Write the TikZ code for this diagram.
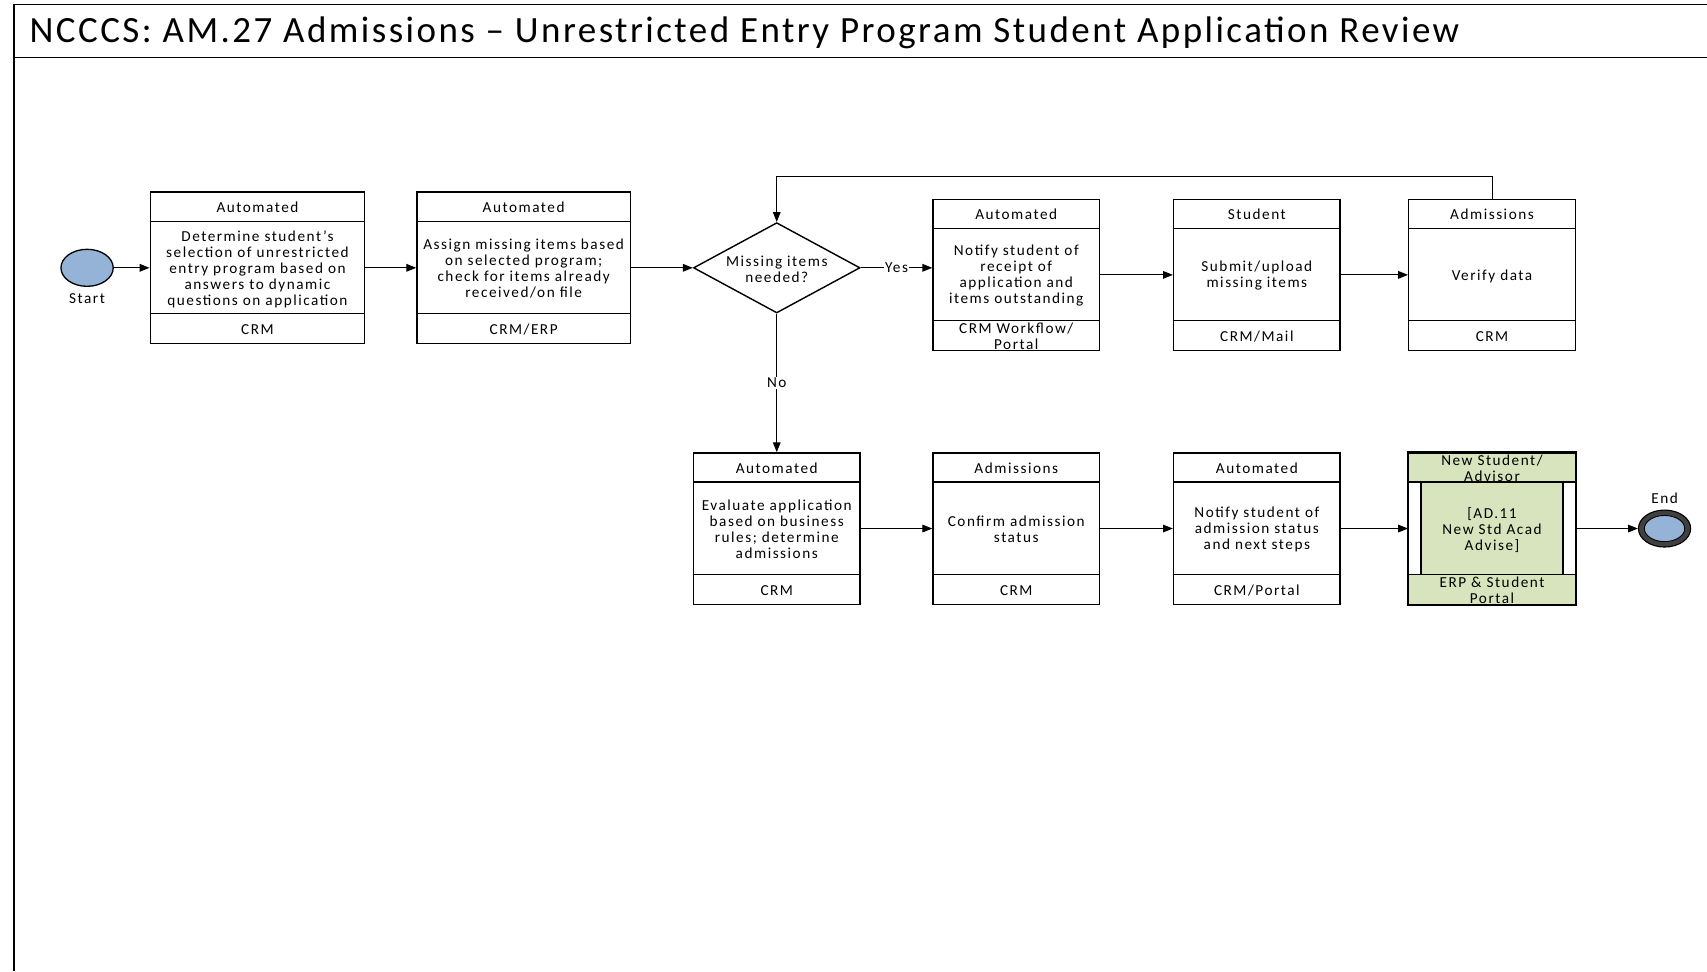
\documentclass[tikz,border=0pt]{standalone}
\usepackage{fontspec}
\setmainfont{Carlito}
\usetikzlibrary{arrows.meta,calc,shapes.geometric}

\definecolor{startblue}{RGB}{149,179,215}
\definecolor{subgreen}{RGB}{215,228,189}
\definecolor{ringgray}{RGB}{64,64,64}

\newfontfamily\boxfont[LetterSpace=10]{Carlito}
\newfontfamily\titlefont[LetterSpace=6.6]{Carlito}

\tikzset{
  boxline/.style={draw=black, line width=1.3pt},
  flow/.style={draw=black, line width=0.9pt, -{Triangle[length=9pt,width=7pt]}},
  lbl/.style={font=\boxfont\fontsize{14}{14.7}\selectfont, align=center, inner sep=0pt},
  tag/.style={lbl, fill=white, inner sep=1pt},
}

% task box: name, centre, width, role, task text, system
\newcommand{\procbox}[6]{%
  \node[boxline, minimum width=#3, minimum height=139pt, inner sep=0pt] (#1) at (#2) {};
  \draw[boxline] ($(#1.north west)+(0,27.5)$) -- ($(#1.north east)+(0,27.5)$);
  \draw[boxline] ($(#1.south west)+(0,-28)$) -- ($(#1.south east)+(0,-28)$);
  \node[lbl] (#1-role) at ($(#1.north)+(0,14.5)$) {#4};
  \node[lbl] (#1-task) at ($(#1.center)+(0,1)$) {#5};
  \node[lbl] (#1-sys) at ($(#1.south)+(0,-13.5)$) {#6};
}

\begin{document}
\begin{tikzpicture}[x=1pt, y=-1pt]
\useasboundingbox (0,0) rectangle (1568,892);

% page frame and title bar
\draw[line width=1.4pt] (1568,4) -- (13,4) -- (13,892);
\draw[line width=1.4pt] (13,53) -- (1568,53);
\node[anchor=west, inner sep=0pt, font=\titlefont\fontsize{34}{36}\selectfont] (title) at (27,30)
  {NCCCS: AM.27 Admissions – Unrestricted Entry Program Student Application Review};

% start event
\node[ellipse, draw=black, line width=1.2pt, fill=startblue, minimum width=48pt, minimum height=34pt] (start) at (80,246) {};
\node[lbl] (startlbl) at (80,274) {Start};

% first row
\procbox{b1}{236.5,246}{197pt}{Automated}{Determine student’s\\selection of unrestricted\\entry program based on\\answers to dynamic\\questions on application}{CRM}
\procbox{b2}{481,246}{196pt}{Automated}{Assign missing items based\\on selected program;\\check for items already\\received/on file}{CRM/ERP}

\node[diamond, draw=black, line width=1.3pt, minimum width=153pt, minimum height=83pt, inner sep=0pt] (dec) at (713.5,246) {};
\node[lbl] (declbl) at ($(dec.center)+(0,1)$) {Missing items\\needed?};

\procbox{b3}{933.5,252.5}{153pt}{Automated}{Notify student of\\receipt of\\application and\\items outstanding}{CRM Workflow/\\Portal}
\procbox{b4}{1154.5,252.5}{153pt}{Student}{Submit/upload\\missing items}{CRM/Mail}
\procbox{b5}{1370.5,252.5}{153pt}{Admissions}{Verify data}{CRM}

% second row
\procbox{b6}{713.5,485.5}{153pt}{Automated}{Evaluate application\\based on business\\rules; determine\\admissions}{CRM}
\procbox{b7}{933.5,485.5}{153pt}{Admissions}{Confirm admission\\status}{CRM}
\procbox{b8}{1154.5,485.5}{153pt}{Automated}{Notify student of\\admission status\\and next steps}{CRM/Portal}

% linked sub-process
\node[boxline, fill=subgreen, minimum width=153pt, minimum height=139pt, inner sep=0pt] (sub) at (1370.5,485.5) {};
\fill[white] ($(sub.north west)+(0.65,27.5)$) rectangle ($(sub.south west)+(12,-28)$);
\fill[white] ($(sub.north east)+(-12,27.5)$) rectangle ($(sub.south east)+(-0.65,-28)$);
\draw[boxline] ($(sub.north west)+(12,27.5)$) -- ($(sub.south west)+(12,-28)$);
\draw[boxline] ($(sub.north east)+(-12,27.5)$) -- ($(sub.south east)+(-12,-28)$);
\draw[boxline] ($(sub.north west)+(0,27.5)$) -- ($(sub.north east)+(0,27.5)$);
\draw[boxline] ($(sub.south west)+(0,-28)$) -- ($(sub.south east)+(0,-28)$);
\draw[boxline] (sub.north west) rectangle (sub.south east);
\node[lbl] (sub-role) at ($(sub.north)+(0,14.5)$) {New Student/\\Advisor};
\node[lbl] (sub-task) at ($(sub.center)+(0,1)$) {[AD.11\\New Std Acad\\Advise]};
\node[lbl] (sub-sys) at ($(sub.south)+(0,-13.5)$) {ERP \& Student\\Portal};

% end event
\node[ellipse, draw=black, line width=1pt, fill=ringgray, minimum width=48pt, minimum height=34pt] (end) at (1529,485.5) {};
\node[ellipse, draw=black, line width=0.8pt, fill=startblue, minimum width=37pt, minimum height=24pt] (endin) at (end.center) {};
\node[lbl] (endlbl) at (1529,458) {End};

% sequence flows
\draw[flow] (start) -- (b1);
\draw[flow] (b1) -- (b2);
\draw[flow] (b2) -- (dec.west);
\draw[flow] (dec.east) -- (dec.east -| b3.west) node[tag, midway] {Yes};
\draw[flow] (b3) -- (b4);
\draw[flow] (b4) -- (b5);
\draw[flow] (b5.north) -- ++(0,-20) -| (dec.north);
\draw[flow] (dec.south) -- (b6.north) node[tag, midway] {No};
\draw[flow] (b6) -- (b7);
\draw[flow] (b7) -- (b8);
\draw[flow] (b8) -- (sub);
\draw[flow] (sub) -- (end);
\end{tikzpicture}
\end{document}
